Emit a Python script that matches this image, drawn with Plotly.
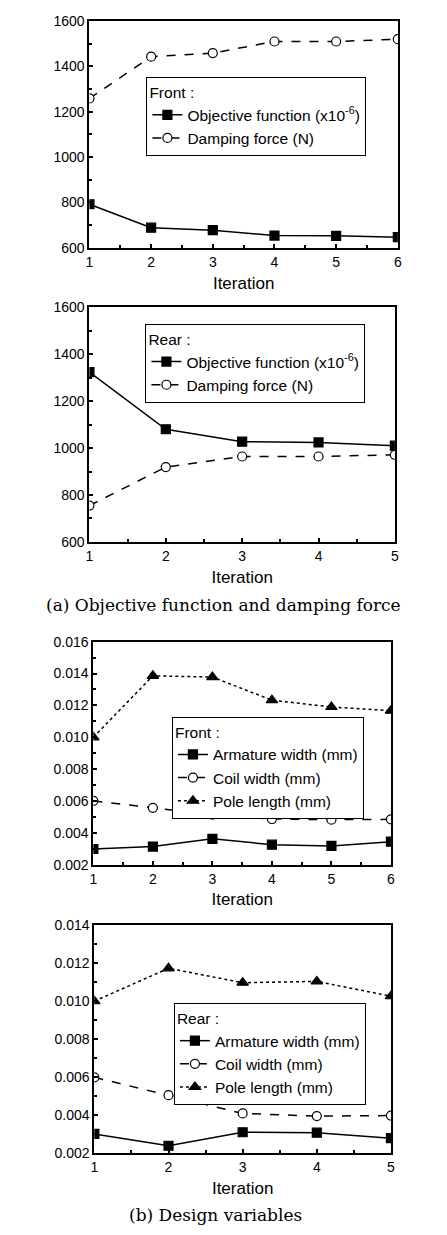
import plotly.graph_objects as go

# ---------------- data ----------------
iter_front = [1, 2, 3, 4, 5, 6]
iter_rear = [1, 2, 3, 4, 5]

obj_front = [792, 689, 678, 654, 653, 647]
damp_front = [1258, 1442, 1458, 1509, 1509, 1519]

obj_rear = [1323, 1080, 1027, 1024, 1010]
damp_rear = [755, 919, 964, 964, 971]

arm_front = [0.00299, 0.00314, 0.00363, 0.00326, 0.00318, 0.00345]
coil_front = [0.00601, 0.00557, 0.00514, 0.00487, 0.00483, 0.00485]
pole_front = [0.0100, 0.01386, 0.01378, 0.01233, 0.01190, 0.01167]

arm_rear = [0.00300, 0.00238, 0.00309, 0.00307, 0.00278]
coil_rear = [0.00598, 0.00504, 0.00408, 0.00394, 0.00397]
pole_rear = [0.00999, 0.01172, 0.01096, 0.01103, 0.01025]

# ---------------- figure ----------------
W, H = 447, 1235
FONT = "Liberation Sans, Arial, sans-serif"

fig = go.Figure()

def px_x(p):
    return p / W

def px_y(p):
    return 1 - p / H

def add(x, y, name, dash, symbol, filled, xa, ya, legend, msize=9):
    fig.add_trace(go.Scatter(
        x=x, y=y, name=name, mode="lines+markers",
        line=dict(color="black", width=1.5, dash=dash),
        marker=dict(symbol=symbol, size=msize,
                    color="black" if filled else "white",
                    line=dict(color="black", width=1.2)),
        xaxis=xa, yaxis=ya, legend=legend, cliponaxis=True))

obj_name = "Objective function (x10<sup>-6</sup>)"
add(iter_front, obj_front, obj_name, "solid", "square", True, "x", "y", "legend")
add(iter_front, damp_front, "Damping force (N)", "dash", "circle", False, "x", "y", "legend")

add(iter_rear, obj_rear, obj_name, "solid", "square", True, "x2", "y2", "legend2")
add(iter_rear, damp_rear, "Damping force (N)", "dash", "circle", False, "x2", "y2", "legend2")

add(iter_front, arm_front, "Armature width (mm)", "solid", "square", True, "x3", "y3", "legend3")
add(iter_front, coil_front, "Coil width (mm)", "dash", "circle", False, "x3", "y3", "legend3")
add(iter_front, pole_front, "Pole length (mm)", "dot", "triangle-up", True, "x3", "y3", "legend3", 10)

add(iter_rear, arm_rear, "Armature width (mm)", "solid", "square", True, "x4", "y4", "legend4")
add(iter_rear, coil_rear, "Coil width (mm)", "dash", "circle", False, "x4", "y4", "legend4")
add(iter_rear, pole_rear, "Pole length (mm)", "dot", "triangle-up", True, "x4", "y4", "legend4", 10)

def xax(domain, rng, anchor):
    return dict(domain=domain, range=rng, anchor=anchor, dtick=1,
                showline=True, linecolor="black", linewidth=2, mirror=True,
                ticks="inside", ticklen=4, tickwidth=1.5, tickcolor="black",
                minor=dict(dtick=0.5, ticks="inside", ticklen=3, tickcolor="black"),
                showgrid=False, zeroline=False,
                tickfont=dict(family=FONT, size=14, color="black"),
                title=dict(text="Iteration", font=dict(family=FONT, size=17, color="black"),
                           standoff=8))

def yax(domain, rng, anchor, dtick, mdtick, fmt=None):
    d = dict(domain=domain, range=rng, anchor=anchor, dtick=dtick,
             showline=True, linecolor="black", linewidth=2, mirror=True,
             ticks="inside", ticklen=4, tickwidth=1.5, tickcolor="black",
             minor=dict(dtick=mdtick, ticks="inside", ticklen=3, tickcolor="black"),
             showgrid=False, zeroline=False,
             tickfont=dict(family=FONT, size=14, color="black"))
    if fmt:
        d["tickformat"] = fmt
    return d

def leg(x, y, title):
    return dict(x=x, y=y, xanchor="left", yanchor="top", xref="paper", yref="paper",
                bgcolor="white", bordercolor="black", borderwidth=1,
                font=dict(family=FONT, size=15.5, color="black"),
                title=dict(text=title, font=dict(family=FONT, size=15.5, color="black")),
                tracegroupgap=0, itemclick=False)

fig.update_layout(
    width=W, height=H, margin=dict(l=0, r=0, t=0, b=0),
    paper_bgcolor="white", plot_bgcolor="white", showlegend=True,
    xaxis=xax([px_x(87), px_x(401)], [1, 6], "y"),
    yaxis=yax([px_y(243), px_y(13)], [600, 1600], "x", 200, 100),
    xaxis2=xax([px_x(87), px_x(398)], [1, 5], "y2"),
    yaxis2=yax([px_y(541), px_y(303)], [600, 1600], "x2", 200, 100),
    xaxis3=xax([px_x(91), px_x(394)], [1, 6], "y3"),
    yaxis3=yax([px_y(868), px_y(642)], [0.002, 0.016], "x3", 0.002, 0.001, ".3f"),
    xaxis4=xax([px_x(92), px_x(394)], [1, 5], "y4"),
    yaxis4=yax([px_y(1160), px_y(929)], [0.002, 0.014], "x4", 0.002, 0.001, ".3f"),
    legend=leg(px_x(145), px_y(70), "Front :"),
    legend2=leg(px_x(144), px_y(320), "Rear :"),
    legend3=leg(px_x(171), px_y(718), "Front :"),
    legend4=leg(px_x(173), px_y(1008), "Rear :"),
)

SERIF = "DejaVu Serif, Liberation Serif, serif"
fig.add_annotation(text="(a) Objective function and damping force", x=0.5, y=px_y(605),
                   xref="paper", yref="paper", showarrow=False, xanchor="center",
                   yanchor="middle", font=dict(family=SERIF, size=17, color="black"))
fig.add_annotation(text="(b) Design variables", x=px_x(215), y=px_y(1223),
                   xref="paper", yref="paper", showarrow=False, xanchor="center",
                   yanchor="middle", font=dict(family=SERIF, size=17, color="black"))

fig.write_html("out.html")
